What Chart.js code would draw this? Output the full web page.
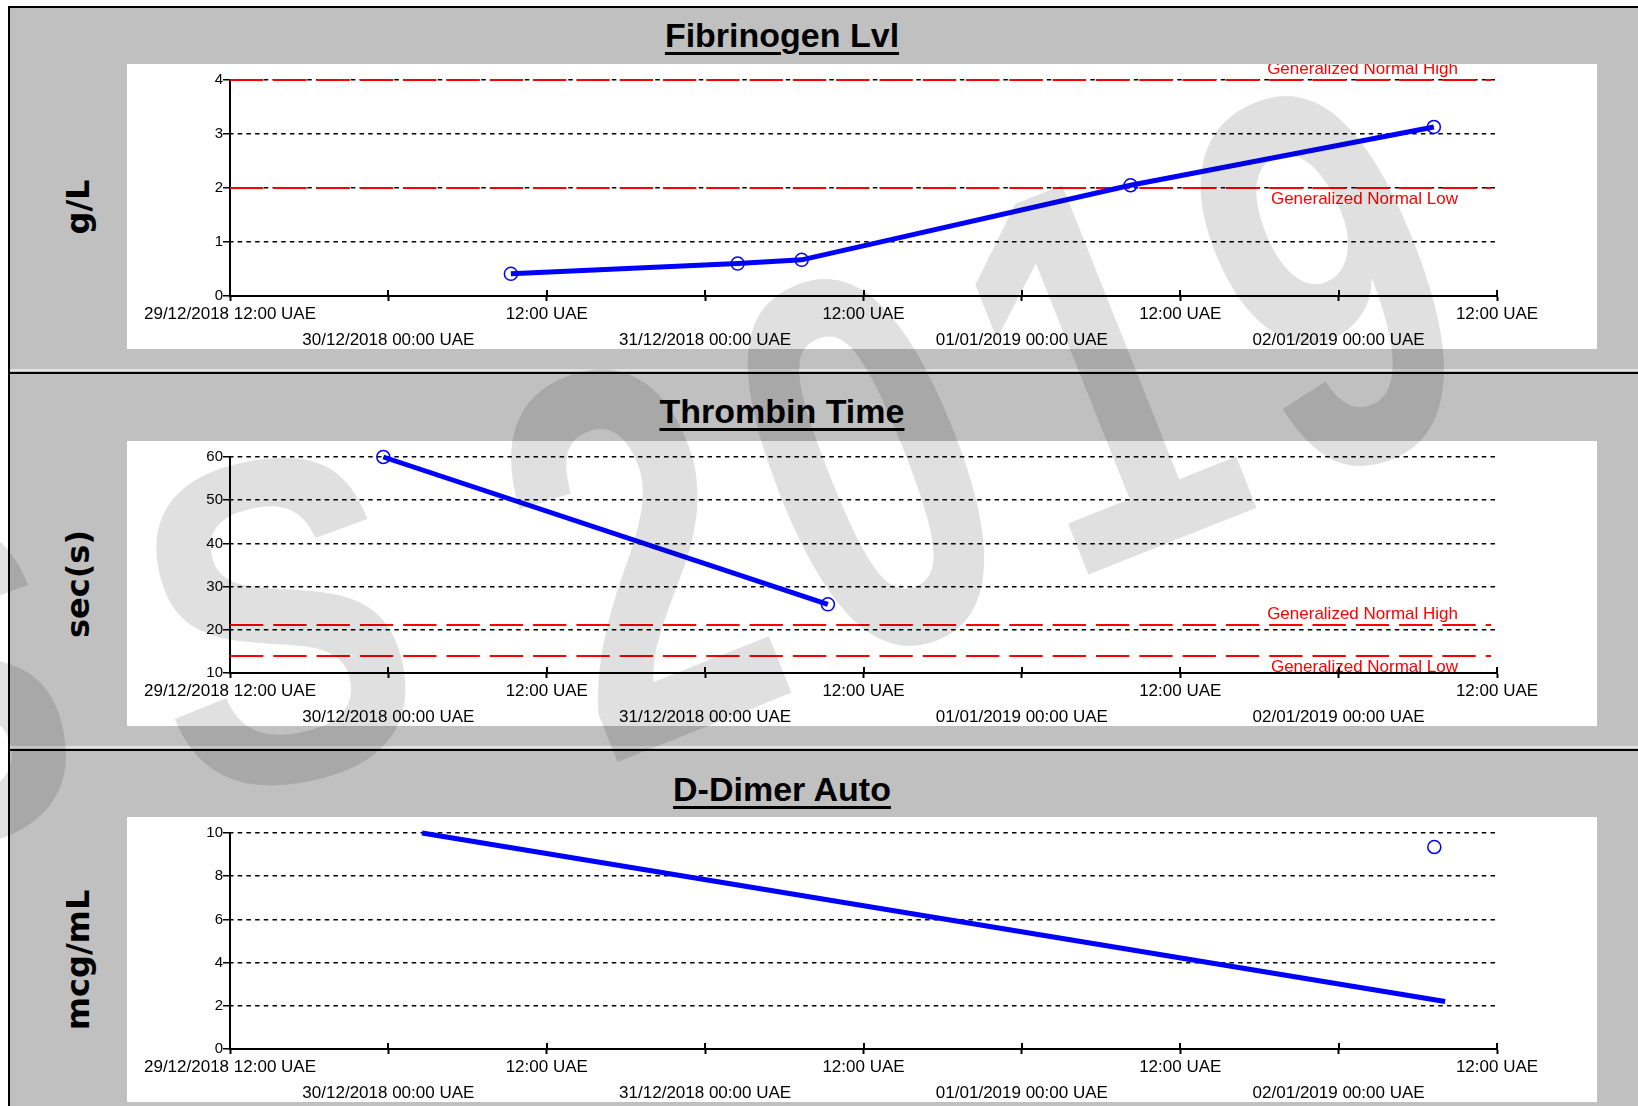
<!DOCTYPE html>
<html>
<head>
<meta charset="utf-8">
<title>Coagulation results</title>
<script src="https://cdn.jsdelivr.net/npm/chart.js@4.4.1/dist/chart.umd.min.js"></script>
<style>
  html, body { margin: 0; padding: 0; background: #fff; }
  body { position: relative; width: 1638px; height: 1106px; overflow: hidden; font-family: "Liberation Sans", Arial, sans-serif; }
  .frame { position: absolute; left: 8px; top: 6px; width: 1630px; height: 1100px; background: #c0c0c0; box-sizing: border-box; border-top: 2px solid #000; border-left: 2px solid #000; }
  .sep { position: absolute; left: 10px; width: 1628px; height: 2px; background: #000; box-shadow: 0 -3px 0 #e2e2e2; }
  .title { position: absolute; left: 0; width: 1564px; text-align: center; font-weight: bold; font-size: 34px; line-height: 34px; color: #000;
           text-decoration: underline; text-decoration-thickness: 3px; text-underline-offset: 5px; }
  .ylab { position: absolute; left: 78px; font-family: "DejaVu Sans", Verdana, sans-serif; font-weight: bold; font-size: 32px; line-height: 32px;
          white-space: nowrap; color: #000; transform: translate(-50%, -50%) rotate(-90deg); }
  canvas.plot { position: absolute; left: 127px; background: #fff; }
  svg.wm { position: absolute; left: 0; top: 0; pointer-events: none; }
  svg.wm text { font-family: "Liberation Sans", Arial, sans-serif; font-weight: bold; fill: rgba(0,0,0,0.12); }
</style>
</head>
<body>
<div class="frame"></div>
<div class="sep" style="top:372px"></div>
<div class="sep" style="top:749px"></div>

<div class="title" style="top:18px">Fibrinogen Lvl</div>
<div class="ylab" style="top:207px">g/L</div>
<canvas class="plot" id="fib" width="1470" height="285" style="top:64px"></canvas>

<div class="title" style="top:394px">Thrombin Time</div>
<div class="ylab" style="top:584px">sec(s)</div>
<canvas class="plot" id="tt" width="1470" height="285" style="top:441px"></canvas>

<div class="title" style="top:772px">D-Dimer Auto</div>
<div class="ylab" style="top:960px">mcg/mL</div>
<canvas class="plot" id="dd" width="1470" height="285" style="top:817px"></canvas>

<svg class="wm" width="1638" height="1106">
  <text x="0" y="0" font-size="460" letter-spacing="100" transform="translate(-160 868) rotate(-11) scale(0.85 1)">SS</text>
  <text x="0" y="0" font-size="540" letter-spacing="44" transform="translate(605 767) rotate(-21.7) scale(0.72 1)">2019</text>
</svg>

<script>
// Time axis: 29/12/2018 12:00 to 02/01/2019 12:00, one tick every 12 hours
const axisStart = '29/12/2018 12:00';
const axisHours = 96;
const tickStepHours = 12;
const xTickLabels = [
  '29/12/2018 12:00 UAE', '30/12/2018 00:00 UAE', '12:00 UAE',
  '31/12/2018 00:00 UAE', '12:00 UAE', '01/01/2019 00:00 UAE',
  '12:00 UAE', '02/01/2019 00:00 UAE', '12:00 UAE'
];

// Fibrinogen (g/L)
const fibTimes = ['30/12/2018 09:17', '31/12/2018 02:28', '31/12/2018 07:19', '01/01/2019 08:14', '02/01/2019 07:13'];
const fibValues = [0.41, 0.6, 0.67, 2.05, 3.13];
const fibNormalHigh = 4;
const fibNormalLow = 2;
const fibYTicks = { min: 0, max: 4, step: 1 };

// Thrombin time (sec)
const ttTimes = ['29/12/2018 23:37', '31/12/2018 09:18'];
const ttValues = [60, 25.9];
const ttNormalHigh = 21;
const ttNormalLow = 14;
const ttYTicks = { min: 10, max: 60, step: 10 };

// D-Dimer (mcg/mL): trend segment plus a single result marker
const ddLineTimes = ['30/12/2018 02:33', '02/01/2019 08:04'];
const ddLineValues = [10, 2.2];
const ddPointTimes = ['02/01/2019 07:15'];
const ddPointValues = [9.35];
const ddYTicks = { min: 0, max: 10, step: 2 };

const normalHighText = 'Generalized Normal High';
const normalLowText = 'Generalized Normal Low';

function toDate(s) {
  const [d, t] = s.split(' ');
  const [dd, mm, yy] = d.split('/').map(Number);
  const [hh, mi] = t.split(':').map(Number);
  return Date.UTC(yy, mm - 1, dd, hh, mi);
}
const startMs = toDate(axisStart);
const hoursSinceStart = s => (toDate(s) - startMs) / 3600000;
const toPoints = (times, values) => times.map((t, i) => ({ x: hoursSinceStart(t), y: values[i] }));

const BLUE = '#0000ff';
const RED = '#ff0000';
const FONT = '"Liberation Sans", Arial, sans-serif';

// Red dashed normal-range lines with their captions
const normalRangePlugin = {
  id: 'normalRange',
  beforeDatasetsDraw(chart, args, opts) {
    if (opts.high == null) return;
    const { ctx, chartArea } = chart;
    const y = chart.scales.y;
    ctx.save();
    ctx.strokeStyle = RED;
    ctx.lineWidth = 2;
    ctx.setLineDash([33.3, 10]);
    [opts.high, opts.low].forEach(v => {
      const py = Math.round(y.getPixelForValue(v));
      ctx.beginPath();
      ctx.moveTo(chartArea.left, py);
      ctx.lineTo(chartArea.right - 6, py);
      ctx.stroke();
    });
    ctx.setLineDash([]);
    ctx.fillStyle = RED;
    ctx.font = '17px ' + FONT;
    ctx.textAlign = 'right';
    ctx.textBaseline = 'alphabetic';
    const tx = chartArea.right - 39;
    ctx.fillText(normalHighText, tx, y.getPixelForValue(opts.high) - 6.5);
    ctx.fillText(normalLowText, tx, y.getPixelForValue(opts.low) + 16);
    ctx.restore();
  }
};

// Time-axis tick marks cross the axis line
const crossTicksPlugin = {
  id: 'crossTicks',
  afterDraw(chart) {
    const { ctx, chartArea } = chart;
    const x = chart.scales.x;
    ctx.save();
    ctx.strokeStyle = '#000';
    ctx.lineWidth = 2;
    x.ticks.forEach(t => {
      const px = Math.round(x.getPixelForValue(t.value));
      ctx.beginPath();
      ctx.moveTo(px, chartArea.bottom - 6);
      ctx.lineTo(px, chartArea.bottom);
      ctx.stroke();
    });
    ctx.restore();
  }
};

function buildChart(canvasId, datasets, yTicks, normal) {
  return new Chart(document.getElementById(canvasId), {
    type: 'line',
    data: { datasets },
    plugins: [normalRangePlugin, crossTicksPlugin],
    options: {
      responsive: false,
      animation: false,
      devicePixelRatio: 1,
      layout: { padding: { left: 0, right: 100, top: 16, bottom: 0 } },
      plugins: {
        legend: { display: false },
        tooltip: { enabled: false },
        normalRange: normal || {}
      },
      scales: {
        x: {
          type: 'linear',
          min: 0,
          max: axisHours,
          afterFit: s => { s.height = 53; },
          grid: { drawOnChartArea: false, drawTicks: true, tickLength: 5, tickWidth: 2, tickColor: '#000', tickBorderDash: [] },
          border: { display: true, color: '#000', width: 2 },
          ticks: {
            stepSize: tickStepHours,
            autoSkip: false,
            maxRotation: 0,
            minRotation: 0,
            padding: 0,
            color: '#000',
            font: { family: FONT, size: 17, lineHeight: '26px' },
            callback: (value, index) => {
              const text = xTickLabels[index] || '';
              return index % 2 === 0 ? [text, ''] : ['', text];
            }
          }
        },
        y: {
          min: yTicks.min,
          max: yTicks.max,
          afterFit: s => { s.width = 103; },
          grid: { color: '#000', lineWidth: 1.5, drawTicks: true, tickLength: 7, tickWidth: 1.5, tickColor: '#000', tickBorderDash: [] },
          border: { display: true, color: '#000', width: 2, dash: [4.5, 4.2], dashOffset: 2 },
          ticks: {
            stepSize: yTicks.step,
            padding: 0,
            color: '#000',
            font: { family: FONT, size: 15 }
          }
        }
      }
    }
  });
}

const lineStyle = {
  borderColor: BLUE,
  borderWidth: 5,
  tension: 0,
  clip: 10,
  pointRadius: 6.5,
  pointBorderWidth: 1.5,
  pointBorderColor: BLUE,
  pointBackgroundColor: 'rgba(255,255,255,0)'
};

buildChart('fib', [
  Object.assign({ label: 'Fibrinogen Lvl', data: toPoints(fibTimes, fibValues) }, lineStyle)
], fibYTicks, { high: fibNormalHigh, low: fibNormalLow });

buildChart('tt', [
  Object.assign({ label: 'Thrombin Time', data: toPoints(ttTimes, ttValues) }, lineStyle)
], ttYTicks, { high: ttNormalHigh, low: ttNormalLow });

buildChart('dd', [
  Object.assign({}, lineStyle, { label: 'D-Dimer Auto trend', data: toPoints(ddLineTimes, ddLineValues), pointRadius: 0 }),
  Object.assign({}, lineStyle, { label: 'D-Dimer Auto', data: toPoints(ddPointTimes, ddPointValues), showLine: false })
], ddYTicks, null);
</script>
</body>
</html>
